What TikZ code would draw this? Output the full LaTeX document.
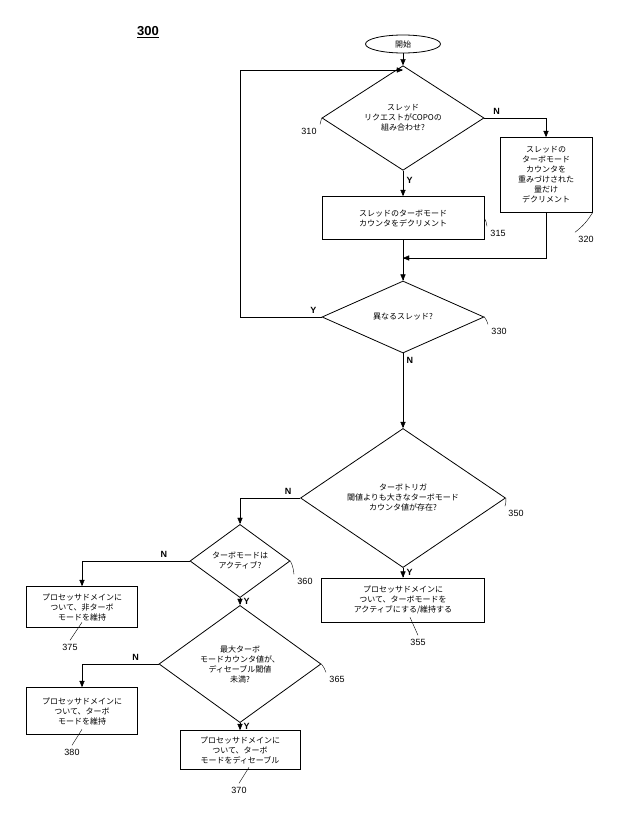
\documentclass[tikz,border=0pt]{standalone}
\usepackage{fontspec}
\setmainfont{Liberation Sans}
\newfontfamily\cjk{Noto Sans CJK JP}
\usetikzlibrary{shapes.geometric,arrows}
\begin{document}
\begin{tikzpicture}[x=1pt,y=-1pt,>=triangle 45,font=\cjk\fontsize{8}{10}\selectfont,
  box/.style={draw,thick,align=center,inner sep=1pt},
  dec/.style={draw,thick,diamond,align=center,inner sep=0pt},
  lbl/.style={font=\fontsize{9}{10}\selectfont},
  yn/.style={font=\bfseries\fontsize{9}{10}\selectfont}]
	\useasboundingbox (0,0) rectangle (622,819);
	\node[font=\bfseries\fontsize{13}{14}\selectfont] (fig) at (148,32) {\underline{300}};
	\node[draw,thick,ellipse,minimum width=75,minimum height=18,inner sep=0pt] (start) at (403,44) {開始};
	\node[dec,minimum width=162,minimum height=83] (d310) at (403,118) {スレッド\\リクエストがCOPOの\\組み合わせ?};
	\node[box,minimum width=162,minimum height=43] (b315) at (403,218) {スレッドのターボモード\\カウンタをデクリメント};
	\node[box,minimum width=92,minimum height=75] (b320) at (546,175) {スレッドの\\ターボモード\\カウンタを\\重みづけされた\\量だけ\\デクリメント};
	\node[dec,minimum width=162,minimum height=72] (d330) at (403,317) {異なるスレッド?};
	\node[dec,minimum width=205,minimum height=91] (d350) at (403,498) {ターボトリガ\\閾値よりも大きなターボモード\\カウンタ値が存在?};
	\node[box,minimum width=163,minimum height=44] (b355) at (403,600) {プロセッサドメインに\\ついて、ターボモードを\\アクティブにする/維持する};
	\node[dec,minimum width=100,minimum height=69] (d360) at (240,561) {ターボモードは\\アクティブ?};
	\node[box,minimum width=111,minimum height=41] (b375) at (82,607) {プロセッサドメインに\\ついて、非ターボ\\モードを維持};
	\node[dec,minimum width=162,minimum height=92] (d365) at (240,664) {最大ターボ\\モードカウンタ値が、\\ディセーブル閾値\\未満?};
	\node[box,minimum width=111,minimum height=47] (b380) at (82,711) {プロセッサドメインに\\ついて、ターボ\\モードを維持};
	\node[box,minimum width=120,minimum height=39] (b370) at (240,750) {プロセッサドメインに\\ついて、ターボ\\モードをディセーブル};
	% reference numbers
	\node[lbl] (n310) at (309,131) {310};
	\node[lbl] (n315) at (498,233) {315};
	\node[lbl] (n320) at (586,239) {320};
	\node[lbl] (n330) at (499,331) {330};
	\node[lbl] (n350) at (516,513) {350};
	\node[lbl] (n355) at (418,642) {355};
	\node[lbl] (n360) at (305,581) {360};
	\node[lbl] (n365) at (337,679) {365};
	\node[lbl] (n375) at (70,647) {375};
	\node[lbl] (n380) at (72,752) {380};
	\node[lbl] (n370) at (239,790) {370};
	\draw (n310.north east) to[bend left=10] (d310.west);
	\draw (n315.north west) to[bend right=10] (b315.east);
	\draw (n320.north west) to[bend right=10] (b320.south east);
	\draw (n330.north west) to[bend right=10] (d330.east);
	\draw (n350.north west) to[bend right=10] (d350.east);
	\draw (n355.north) -- ++(-8,-18);
	\draw (n360.north west) to[bend right=10] (d360.east);
	\draw (n365.north west) to[bend right=10] (d365.east);
	\draw (n375.north) -- ++(12,-18);
	\draw (n380.north) -- ++(10,-16);
	\draw (n370.north) -- ++(10,-16);
	% connectors
	\coordinate (j1) at (403,70);
	\coordinate (j2) at (403,258);
	\draw[->] (start) -- (d310);
	\draw[->] (d310.east) -| node[yn,pos=0.1,above] {N} (b320.north);
	\draw[->] (d310.south) -- node[yn,right,pos=0.4] {Y} (b315.north);
	\draw[->] (b320.south) |- (j2);
	\draw[->] (b315.south) -- (d330.north);
	\draw[->] (d330.west) -- node[yn,above,pos=0.1] {Y} (240,317) |- (j1);
	\draw[->] (d330.south) -- node[yn,right,pos=0.1] {N} (d350.north);
	\draw[->] (d350.south) -- node[yn,right,pos=0.45] {Y} (b355.north);
	\draw[->] (d350.west) -| node[yn,above,pos=0.1] {N} (d360.north);
	\draw[->] (d360.west) -| node[yn,above,pos=0.12] {N} (b375.north);
	\draw[->] (d360.south) -- node[yn,right] {Y} (d365.north);
	\draw[->] (d365.west) -| node[yn,above,pos=0.15] {N} (b380.north);
	\draw[->] (d365.south) -- node[yn,right] {Y} (b370.north);
\end{tikzpicture}
\end{document}
